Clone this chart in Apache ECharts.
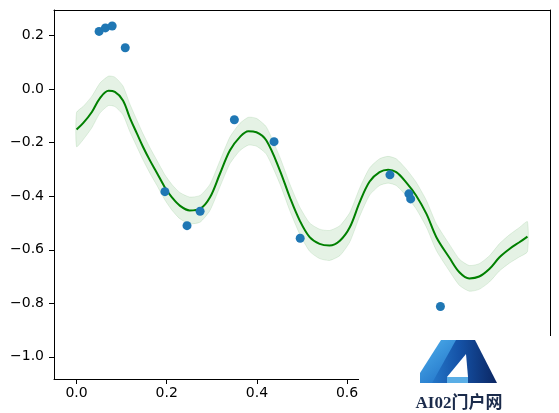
<!DOCTYPE html>
<html>
<head>
<meta charset="utf-8">
<script src="https://cdn.jsdelivr.net/npm/echarts@6/dist/echarts.min.js"></script>
<style>
html,body{margin:0;padding:0;background:#fff;}
#chart{width:559px;height:413px;}
</style>
</head>
<body>
<div id="chart"></div>
<script>
// Observed scatter points
const obsX = [0.050, 0.064, 0.079, 0.108, 0.196, 0.245, 0.274, 0.350, 0.438, 0.496, 0.695, 0.737, 0.741, 0.807];
const obsY = [0.216, 0.229, 0.236, 0.155, -0.383, -0.510, -0.456, -0.114, -0.196, -0.557, -0.320, -0.391, -0.410, -0.812];

// Predicted mean curve
const predX = [0, 0.015, 0.034, 0.052, 0.071, 0.085, 0.103, 0.118, 0.134, 0.147, 0.163, 0.178, 0.196, 0.212, 0.229, 0.251, 0.274, 0.296, 0.318, 0.340, 0.362, 0.381, 0.399, 0.421, 0.451, 0.473, 0.495, 0.517, 0.539, 0.561, 0.584, 0.606, 0.628, 0.650, 0.672, 0.691, 0.709, 0.731, 0.753, 0.776, 0.798, 0.827, 0.849, 0.871, 0.893, 0.916, 0.938, 0.960, 0.982, 1.0];
const predY = [-0.151, -0.126, -0.085, -0.033, -0.006, -0.010, -0.042, -0.106, -0.166, -0.214, -0.267, -0.312, -0.367, -0.405, -0.435, -0.453, -0.447, -0.404, -0.316, -0.229, -0.179, -0.157, -0.161, -0.192, -0.304, -0.404, -0.491, -0.553, -0.578, -0.584, -0.566, -0.516, -0.422, -0.345, -0.310, -0.301, -0.310, -0.348, -0.397, -0.466, -0.553, -0.630, -0.684, -0.707, -0.700, -0.671, -0.628, -0.597, -0.572, -0.551];
// Half width of the confidence band
const bandHalf = [0.064, 0.062, 0.059, 0.056, 0.055, 0.055, 0.054, 0.052, 0.050, 0.049, 0.048, 0.047, 0.047, 0.048, 0.049, 0.050, 0.050, 0.049, 0.049, 0.050, 0.051, 0.052, 0.052, 0.051, 0.050, 0.050, 0.051, 0.053, 0.055, 0.056, 0.056, 0.055, 0.053, 0.051, 0.050, 0.050, 0.050, 0.050, 0.050, 0.050, 0.050, 0.050, 0.049, 0.048, 0.048, 0.049, 0.051, 0.053, 0.055, 0.056];

const xTicks = [0.0, 0.2, 0.4, 0.6, 0.8, 1.0];
const yTicks = [-1.0, -0.8, -0.6, -0.4, -0.2, 0.0, 0.2];

const fmt = v => {
  const s = (Math.abs(v) < 1e-9 ? 0 : v).toFixed(1);
  return s.replace('-', '\u2212');
};

const chart = echarts.init(document.getElementById('chart'), null, {renderer: 'canvas'});
const FONT = 'DejaVu Sans';

const bandData = predX.map((x, i) => [x, predY[i] - bandHalf[i], predY[i] + bandHalf[i]]);

chart.setOption({
  animation: false,
  backgroundColor: '#ffffff',
  grid: {left: 54, right: 9, top: 10, bottom: 34, containLabel: false},
  xAxis: [{
    type: 'value', min: -0.05, max: 1.05, position: 'bottom',
    splitLine: {show: false},
    axisLine: {show: true, onZero: false, lineStyle: {color: '#000', width: 1}},
    axisTick: {show: true, inside: false, length: 5, customValues: xTicks, lineStyle: {color: '#000'}},
    axisLabel: {show: true, customValues: xTicks, formatter: fmt, margin: 7, color: '#000', fontFamily: FONT, fontSize: 14}
  }, {
    type: 'value', min: -0.05, max: 1.05, position: 'top',
    splitLine: {show: false},
    axisLine: {show: true, onZero: false, lineStyle: {color: '#000', width: 1}},
    axisTick: {show: false}, axisLabel: {show: false}
  }],
  yAxis: [{
    type: 'value', min: -1.083, max: 0.296, position: 'left',
    splitLine: {show: false},
    axisLine: {show: true, onZero: false, lineStyle: {color: '#000', width: 1}},
    axisTick: {show: true, inside: false, length: 5, customValues: yTicks, lineStyle: {color: '#000'}},
    axisLabel: {show: true, customValues: yTicks, formatter: fmt, margin: 10, color: '#000', fontFamily: FONT, fontSize: 14}
  }, {
    type: 'value', min: -1.083, max: 0.296, position: 'right',
    splitLine: {show: false},
    axisLine: {show: true, onZero: false, lineStyle: {color: '#000', width: 1}},
    axisTick: {show: false}, axisLabel: {show: false}
  }],
  series: [{
    type: 'custom',
    xAxisIndex: 0, yAxisIndex: 0,
    data: bandData,
    z: 1,
    silent: true,
    renderItem: function (params, api) {
      if (params.dataIndex !== 0) return null;
      const upper = bandData.map(d => api.coord([d[0], d[2]]));
      const lower = bandData.map(d => api.coord([d[0], d[1]])).reverse();
      return {
        type: 'polygon',
        shape: {points: upper.concat(lower), smooth: 0.2},
        style: {fill: 'rgba(0,128,0,0.1)', stroke: 'rgba(0,128,0,0.1)', lineWidth: 1}
      };
    }
  }, {
    type: 'line',
    data: predX.map((x, i) => [x, predY[i]]),
    showSymbol: false,
    smooth: 0.35,
    lineStyle: {color: '#008000', width: 2},
    z: 2
  }, {
    type: 'scatter',
    data: obsX.map((x, i) => [x, obsY[i]]),
    symbolSize: 9,
    itemStyle: {color: '#1f77b4', opacity: 1},
    z: 3
  }],
  graphic: [
    {type: 'rect', shape: {x: 359, y: 336, width: 200, height: 77}, style: {fill: '#ffffff'}, z: 100},
    {type: 'polygon', shape: {points: [[420, 383], [447, 340], [475, 340], [497, 383]]},
      style: {fill: new echarts.graphic.LinearGradient(0, 0, 1, 0, [{offset: 0, color: '#2b86d6'}, {offset: 0.5, color: '#1553a8'}, {offset: 1, color: '#0b2662'}])}, z: 101},
    {type: 'polygon', shape: {points: [[420, 383], [420, 373], [441, 340], [456, 340], [432, 383]]},
      style: {fill: new echarts.graphic.LinearGradient(0, 0, 1, 1, [{offset: 0, color: '#4fb0ec'}, {offset: 1, color: '#1c6cc4'}])}, z: 102},
    {type: 'polygon', shape: {points: [[447, 377], [466, 354], [468, 377]]}, style: {fill: '#ffffff'}, z: 103},
    {type: 'rect', shape: {x: 447, y: 377, width: 21, height: 6}, style: {fill: '#5aaee6'}, z: 103},
    {type: 'text', x: 459, y: 404, style: {text: 'AI02门户网', fill: '#1b2b4b', font: 'bold 17px "Liberation Serif", "Noto Sans CJK SC", serif', align: 'center', verticalAlign: 'middle'}, z: 104}
  ]
});
</script>
</body>
</html>
